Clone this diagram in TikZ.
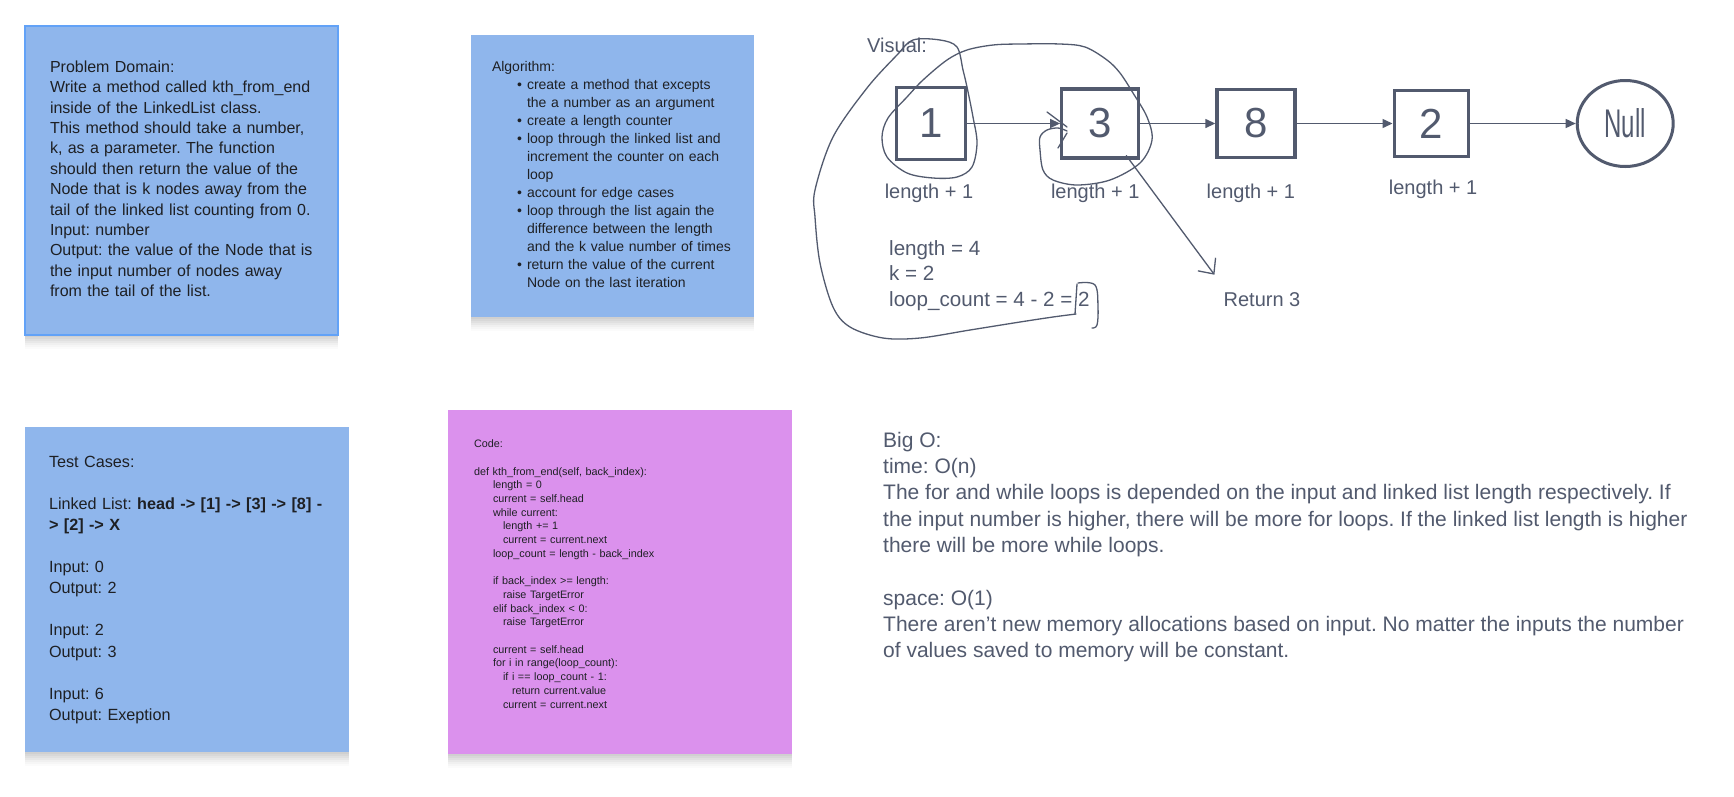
\documentclass[tikz,border=0pt]{standalone}
\usepackage{fontspec}
\setmainfont{Liberation Sans}
\usepackage{xcolor}
\usepackage{graphicx}
\usepackage{tikz}
\usetikzlibrary{shapes.geometric, arrows.meta, positioning, shadows}
\frenchspacing

\definecolor{noteblue}{RGB}{143,182,236}
\definecolor{noteedge}{RGB}{98,162,247}
\definecolor{noteviolet}{RGB}{219,145,237}
\definecolor{ink}{RGB}{30,32,36}
\definecolor{slate}{RGB}{82,90,110}

\newcommand{\notelines}[1]{\noindent\begin{tabular}{@{}l@{}}#1\end{tabular}}

\begin{document}
\begin{tikzpicture}[x=1pt, y=-1pt,
    note/.style={rectangle, fill=noteblue, text=ink, align=left, inner ysep=0pt,
      drop shadow={shadow xshift=0pt, shadow yshift=-2pt, opacity=0.03, fill=black},
      drop shadow={shadow xshift=0pt, shadow yshift=-4pt, opacity=0.03, fill=black},
      drop shadow={shadow xshift=0pt, shadow yshift=-6pt, opacity=0.03, fill=black},
      drop shadow={shadow xshift=0pt, shadow yshift=-8pt, opacity=0.03, fill=black},
      drop shadow={shadow xshift=0pt, shadow yshift=-10pt, opacity=0.025, fill=black},
      drop shadow={shadow xshift=0pt, shadow yshift=-12pt, opacity=0.02, fill=black},
      drop shadow={shadow xshift=0pt, shadow yshift=-14pt, opacity=0.015, fill=black}},
    listbox/.style={rectangle, draw=slate, line width=3.2pt, text=slate, font=\fontsize{42}{42}\selectfont},
    lenlabel/.style={text=slate, font=\fontsize{20}{24}\selectfont, inner sep=0pt},
    link/.style={draw=slate, line width=1.4pt, -{Triangle[length=10pt, width=9pt]}},
    scribble/.style={draw=slate, line width=1.3pt, line cap=round, line join=round}]

    \fill[white] (0,0) rectangle (1734,796);
    \useasboundingbox (0,0) rectangle (1734,796);

    \node (domain) [note, draw=noteedge, line width=2pt, text width=263pt, inner xsep=25pt, minimum height=309pt, font=\fontsize{16}{20.4}\selectfont] at (181.5,180.5) {\notelines{Problem Domain:\\ Write a method called kth\_from\_end\\ inside of the LinkedList class.\\ This method should take a number,\\ k, as a parameter. The function\\ should then return the value of the\\ Node that is k nodes away from the\\ tail of the linked list counting from 0.\\ Input: number\\ Output: the value of the Node that is\\ the input number of nodes away\\ from the tail of the list.}};

    \node (algo) [note, text width=241pt, inner xsep=21pt, minimum height=282pt, font=\fontsize{14}{18}\selectfont] at (612.5,176) {\notelines{Algorithm:\\
      \hspace*{25pt}\makebox[10pt][l]{\textbullet}create a method that excepts\\ \hspace*{35pt}the a number as an argument\\
      \hspace*{25pt}\makebox[10pt][l]{\textbullet}create a length counter\\
      \hspace*{25pt}\makebox[10pt][l]{\textbullet}loop through the linked list and\\ \hspace*{35pt}increment the counter on each\\ \hspace*{35pt}loop\\
      \hspace*{25pt}\makebox[10pt][l]{\textbullet}account for edge cases\\
      \hspace*{25pt}\makebox[10pt][l]{\textbullet}loop through the list again the\\ \hspace*{35pt}difference between the length\\ \hspace*{35pt}and the k value number of times\\
      \hspace*{25pt}\makebox[10pt][l]{\textbullet}return the value of the current\\ \hspace*{35pt}Node on the last iteration}};

    \node (tests) [note, text width=276pt, inner xsep=24pt, minimum height=325pt, font=\fontsize{16.2}{21.1}\selectfont] at (187,589.5) {\notelines{Test Cases:\\ \\ Linked List: \textbf{head -> [1] -> [3] -> [8] -}\\ \textbf{> [2] -> X}\\ \\ Input: 0\\ Output: 2\\ \\ Input: 2\\ Output: 3\\ \\ Input: 6\\ Output: Exeption}};

    \node (code) [note, fill=noteviolet, text width=292pt, inner xsep=26pt, minimum height=344pt, font=\fontsize{10.8}{13.7}\selectfont] at (620,582) {\notelines{Code:\\ \\
      def kth\_from\_end(self, back\_index):\\
      \hspace*{19pt}length = 0\\
      \hspace*{19pt}current = self.head\\
      \hspace*{19pt}while current:\\
      \hspace*{29pt}length += 1\\
      \hspace*{29pt}current = current.next\\
      \hspace*{19pt}loop\_count = length - back\_index\\ \\
      \hspace*{19pt}if back\_index >= length:\\
      \hspace*{29pt}raise TargetError\\
      \hspace*{19pt}elif back\_index < 0:\\
      \hspace*{29pt}raise TargetError\\ \\
      \hspace*{19pt}current = self.head\\
      \hspace*{19pt}for i in range(loop\_count):\\
      \hspace*{29pt}if i == loop\_count - 1:\\
      \hspace*{38pt}return current.value\\
      \hspace*{29pt}current = current.next\\ \mbox{}}};

    \node (visual) [lenlabel, anchor=west] at (867,45) {Visual:};

    \node (b1) [listbox, minimum width=69pt, minimum height=72pt] at (931,123.5) {1};
    \node (b3) [listbox, minimum width=77pt, minimum height=69pt, right=93pt of b1] {3};
    \node (b8) [listbox, minimum width=78pt, minimum height=68pt, right=75pt of b3] {8};
    \node (b2) [listbox, minimum width=74pt, minimum height=66pt, right=96pt of b8] {2};
    \node (null) [ellipse, draw=slate, line width=3pt, text=slate, minimum width=96pt, minimum height=86pt, right=106pt of b2, font=\fontsize{40}{40}\selectfont] {\scalebox{0.6}[1]{Null}};

    \draw [link] (b1) -- (b3);
    \draw [link] (b3) -- (b8);
    \draw [link] (b8) -- (b2);
    \draw [link] (b2) -- (null);

    \node (len1) [lenlabel, below=32pt of b1, anchor=center, xshift=-2pt] {length + 1};
    \node (len3) [lenlabel, below=34pt of b3, anchor=center, xshift=-5pt] {length + 1};
    \node (len8) [lenlabel, below=34pt of b8, anchor=center, xshift=-5pt] {length + 1};
    \node (len2) [lenlabel, below=31pt of b2, anchor=center, xshift=2pt] {length + 1};

    \node (calc) [lenlabel, anchor=west, align=left, font=\fontsize{20.6}{25.5}\selectfont] at (889,275.5) {length = 4\\ k = 2\\ loop\_count = 4 - 2 = 2};
    \node (ret) [lenlabel] at (1262,300) {Return 3};

    \draw [scribble, -{Straight Barb[length=12pt, width=22pt]}] ([xshift=-14pt, yshift=4pt]b3.south east) -- ([xshift=-9pt, yshift=18pt]ret.north west);

    \draw [scribble] plot [smooth, tension=0.55] coordinates {(1076,314) (1053,317) (1020,322) (970,330) (920,338) (883,338) (850,327) (833,307) (820,263) (815,217) (815,190) (833,137) (867,88) (897,55) (913,40) (940,40) (957,47) (963,70) (967,87) (973,117) (977,143) (972,167) (957,177) (933,178) (907,173) (887,157) (882,137) (888,118) (907,97) (923,80) (947,60) (967,50) (993,45) (1020,44) (1060,44) (1085,47) (1107,60) (1120,73) (1133,93) (1147,117) (1152,140) (1140,163) (1110,180) (1077,185) (1053,180) (1043,170) (1040,150) (1040,137) (1047,130) (1058,128) (1067,131)};
    \draw [scribble] (1047,112) -- (1067,127);
    \draw [scribble] (1067,133) -- (1058,148);
    \draw [scribble] (1077,284) -- (1075,314);
    \draw [scribble] plot [smooth, tension=0.6] coordinates {(1078,283) (1095,285) (1098,307) (1097,325) (1092,328)};

    \node (bigo) [lenlabel, anchor=west, align=left, font=\fontsize{21}{26.3}\selectfont] at (883,547) {Big O:\\ time: O(n)\\ The for and while loops is depended on the input and linked list length respectively. If\\ the input number is higher, there will be more for loops. If the linked list length is higher\\ there will be more while loops.\\ \mbox{}\\ space: O(1)\\ There aren't new memory allocations based on input. No matter the inputs the number\\ of values saved to memory will be constant.};
\end{tikzpicture}
\end{document}
